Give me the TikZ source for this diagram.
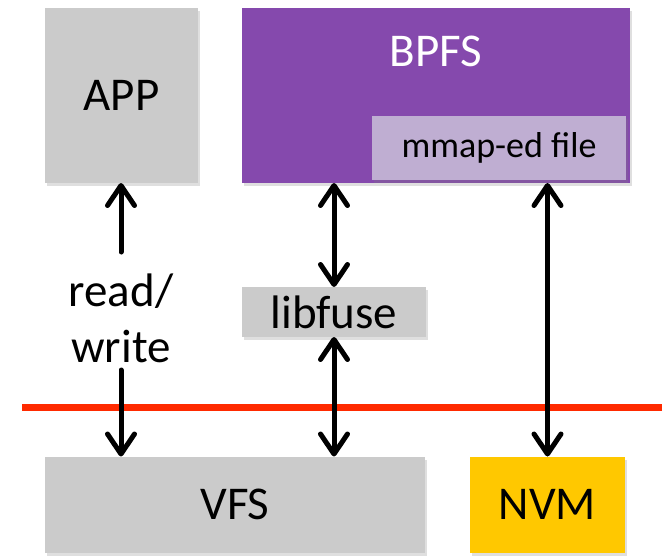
\documentclass[tikz,border=0pt]{standalone}
\usepackage{fontspec}
\setmainfont{Carlito}
\usetikzlibrary{arrows.meta,shadows}
\definecolor{boxgray}{HTML}{CBCBCB}
\definecolor{bpfspurple}{HTML}{8549AD}
\definecolor{mmappurple}{HTML}{BFAED2}
\definecolor{nvmyellow}{HTML}{FFC800}
\definecolor{redline}{HTML}{FF2A00}
\tikzset{
  blk/.style={rectangle, inner sep=0pt, outer sep=0pt, font=\fontsize{47}{54}\selectfont,
    drop shadow={shadow xshift=2pt, shadow yshift=-3pt, opacity=0.25}},
  tipb/.tip={Straight Barb[length=20pt,width=27pt,line cap=round,line join=round]},
  conn/.style={line width=5pt, line cap=round, tipb-tipb},
  connone/.style={line width=5pt, line cap=round, -tipb}
}
\begin{document}
\begin{tikzpicture}[x=1pt,y=-1pt]
\useasboundingbox (0,0) rectangle (664,555);
% boxes
\node[blk, fill=boxgray, minimum width=153pt, minimum height=175pt] (app) at (121.5,95.5) {APP};
\node[blk, fill=bpfspurple, minimum width=388pt, minimum height=175pt] (bpfs) at (436,95.5) {};
\node[font=\fontsize{47}{54}\selectfont, text=white, inner sep=0pt] (bpfslabel) at (436,51) {BPFS};
\node[blk, fill=mmappurple, minimum width=254pt, minimum height=64pt, font=\fontsize{36}{42}\selectfont] (mmap) at (499,148) {mmap-ed file};
\node[blk, fill=boxgray, minimum width=184pt, minimum height=50pt] (libfuse) at (334,312) {libfuse};
\node[blk, fill=boxgray, minimum width=380pt, minimum height=96pt] (vfs) at (235,504.5) {VFS};
\node[blk, fill=nvmyellow, minimum width=155pt, minimum height=96pt] (nvm) at (547.5,504.5) {NVM};
% kernel boundary
\coordinate (redl) at (22,407);
\coordinate (redr) at (662,407);
\draw[redline, line width=7pt, drop shadow={shadow xshift=1pt, shadow yshift=-3pt, opacity=0.2}] (redl) -- (redr);
% read/write label
\node[font=\fontsize{47}{56}\selectfont, align=center, inner sep=0pt] (rw) at (121,318) {read/\\write};
\coordinate (rwtop) at (121,252);
\coordinate (rwbot) at (121,370);
% connectors
\draw[connone] (rwtop) -- (app.south -| rwtop);
\draw[connone] (rwbot) -- (vfs.north -| rwbot);
\draw[conn] (bpfs.south -| libfuse.north) -- (libfuse.north);
\draw[conn] (libfuse.south) -- (vfs.north -| libfuse.south);
\draw[conn] (nvm.north |- bpfs.south) -- (nvm.north);
\end{tikzpicture}
\end{document}
